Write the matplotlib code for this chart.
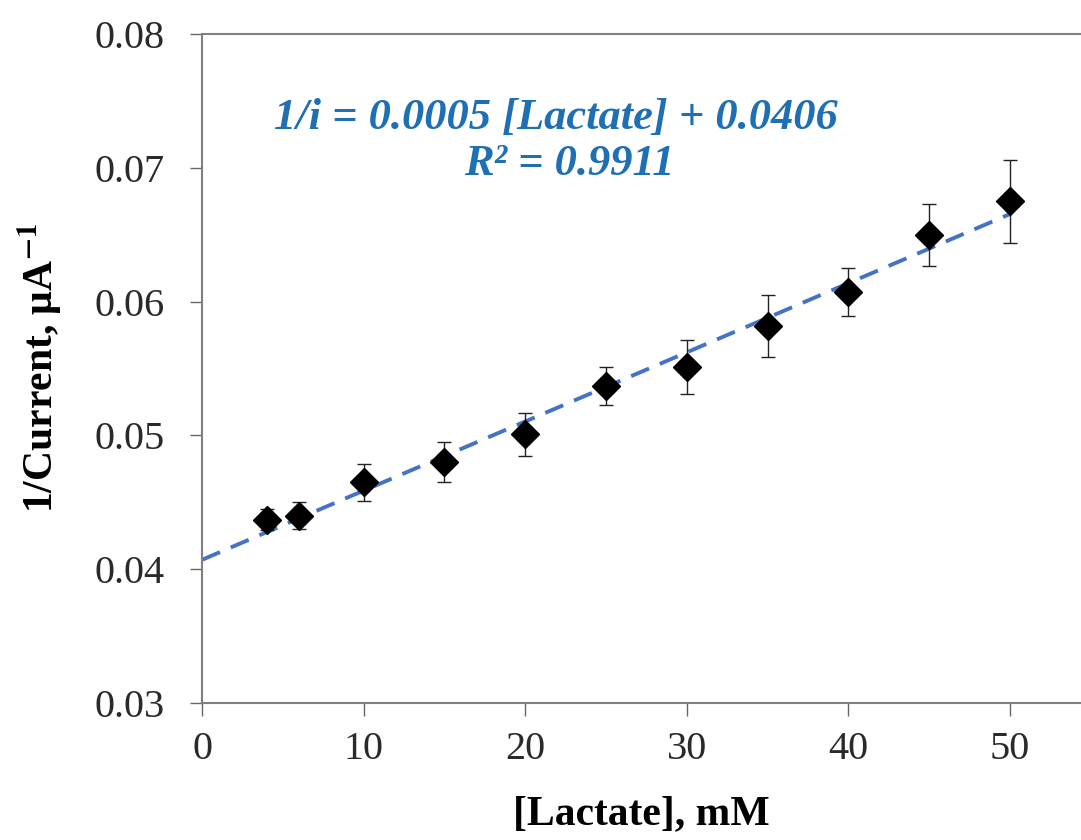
import numpy as np
import matplotlib
matplotlib.use("Agg")
import matplotlib.pyplot as plt

plt.rcParams['font.family'] = ['Liberation Serif', 'DejaVu Serif']
plt.rcParams['mathtext.fontset'] = 'stix'

# lactate concentration (mM), 1/current (uA^-1) and error bars
lactate = [4, 6, 10, 15, 20, 25, 30, 35, 40, 45, 50]
inv_current = [0.0437, 0.0440, 0.0465, 0.0480, 0.0501, 0.0537, 0.0551, 0.0582, 0.0607, 0.0650, 0.0675]
err = [0.0008, 0.0010, 0.0014, 0.0015, 0.0016, 0.0014, 0.0020, 0.0023, 0.0018, 0.0023, 0.0031]

eq_text = "1/i = 0.0005 [Lactate] + 0.0406"
r2_text = "R² = 0.9911"

fig = plt.figure(figsize=(10.81, 8.4), dpi=100)
ax = fig.add_axes([0.187, 0.163, 0.813, 0.7965])

# linear trendline
slope, icpt = np.polyfit(lactate, inv_current, 1)
xf = np.array([0, 50])
ax.plot(xf, slope * xf + icpt, color='#4472C4', lw=2.8, ls=(0, (5, 3)), zorder=2)

ax.errorbar(lactate, inv_current, yerr=err, fmt='D', color='black', ms=14,
            ecolor='#222222', elinewidth=1, capsize=5, capthick=1, zorder=3)

ax.set_xlim(0, 54.4)
ax.set_ylim(0.03, 0.08)
ax.set_xticks([0, 10, 20, 30, 40, 50])
ax.set_yticks([0.03, 0.04, 0.05, 0.06, 0.07, 0.08])
ax.set_yticklabels(['0.03', '0.04', '0.05', '0.06', '0.07', '0.08'])
ax.tick_params(labelsize=29, length=9, width=1, colors='#666666', labelcolor='#2a2a2a')
ax.tick_params(axis='y', pad=18)
ax.tick_params(axis='x', pad=11)

for s in ['left', 'bottom', 'top']:
    ax.spines[s].set_color('#808080')
    ax.spines[s].set_linewidth(1.5)
ax.spines['right'].set_visible(False)

ax.set_xlabel('[Lactate], mM', fontsize=30, fontweight='bold', labelpad=20)
ax.set_ylabel(r'1/Current, μA$^{\mathbf{-1}}$', fontsize=30, fontweight='bold', labelpad=22)

ax.text(0.403, 0.874, eq_text, transform=ax.transAxes, ha='center', va='center',
        fontsize=32, fontweight='bold', style='italic', color='#1F6FB4')
ax.text(0.418, 0.806, r2_text, transform=ax.transAxes, ha='center', va='center',
        fontsize=32, fontweight='bold', style='italic', color='#1F6FB4')

fig.savefig('out.png', dpi=100)
